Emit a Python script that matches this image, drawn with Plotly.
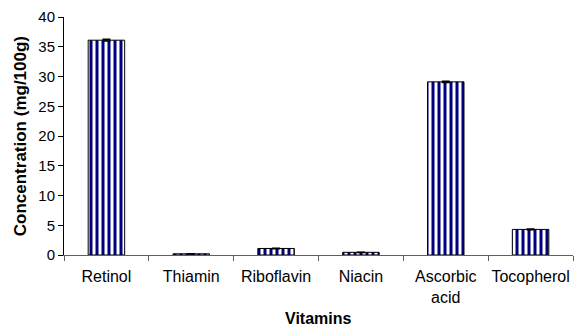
import plotly.graph_objects as go

categories = ["Retinol", "Thiamin", "Riboflavin", "Niacin", "Ascorbic<br>acid", "Tocopherol"]
values = [36.1, 0.2, 1.1, 0.45, 29.1, 4.3]
errors = [0.15, 0.02, 0.05, 0.03, 0.1, 0.05]
y_ticks = [0, 5, 10, 15, 20, 25, 30, 35, 40]

fig = go.Figure()
fig.add_trace(go.Bar(
    x=categories, y=values,
    marker=dict(color="white",
                line=dict(color="black", width=1),
                pattern=dict(shape="|", fgcolor="#000080", bgcolor="white",
                             size=6, solidity=0.5, fillmode="replace")),
    error_y=dict(type="data", array=errors, color="black", thickness=1.5, width=4),
    width=0.43,
))

fig.update_layout(
    width=580, height=329,
    margin=dict(l=64, r=7, t=17, b=74),
    plot_bgcolor="white", paper_bgcolor="white",
    font=dict(family="Liberation Sans, Arial", color="black", size=12),
    showlegend=False,
    annotations=[
        dict(text="<b>Vitamins</b>", xref="paper", yref="paper",
             x=0.5, y=-0.265, xanchor="center", yanchor="middle",
             showarrow=False, font=dict(size=16)),
        dict(text="<b>Concentration (mg/100g)</b>", xref="paper", yref="paper",
             x=-0.086, y=0.5, xanchor="center", yanchor="middle", textangle=-90,
             showarrow=False, font=dict(size=17)),
    ],
)
fig.update_xaxes(
    showline=True, linecolor="#606060", linewidth=1,
    ticks="outside", tickson="boundaries", ticklen=5, tickcolor="#606060",
    tickfont=dict(size=16), tickangle=0, automargin=False, ticklabelstandoff=7,
)
fig.update_yaxes(
    range=[0, 40], tickvals=y_ticks,
    showline=True, linecolor="black", linewidth=1,
    ticks="outside", ticklen=5, tickcolor="black",
    showgrid=False, zeroline=False, automargin=False,
    tickfont=dict(size=15),
)
fig.write_html("out.html", config={"displayModeBar": False},
               post_script="document.body.style.margin='0';")
